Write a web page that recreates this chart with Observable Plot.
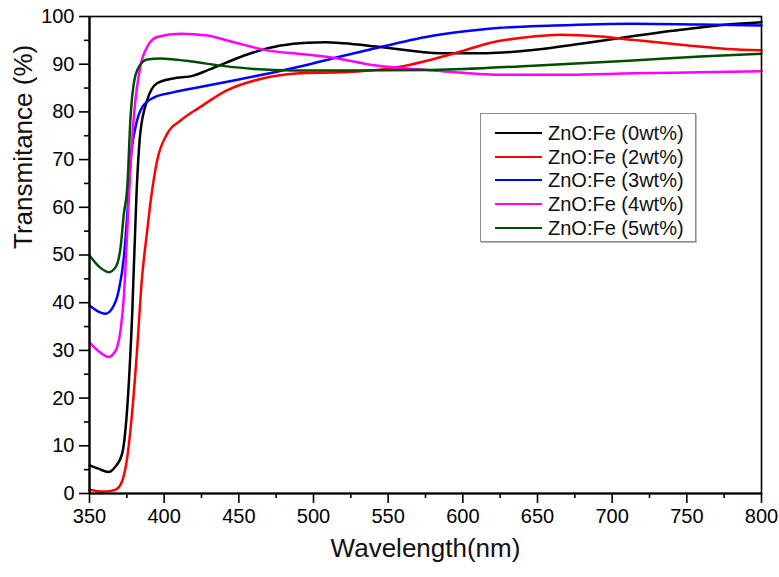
<!DOCTYPE html>
<html>
<head>
<meta charset="utf-8">
<script src="https://cdn.jsdelivr.net/npm/d3@7"></script>
<script src="https://cdn.jsdelivr.net/npm/@observablehq/plot@0.6"></script>
<style>
  body { margin: 0; background: #fff; }
  #wrap { position: relative; width: 779px; height: 577px; font-family: "Liberation Sans", Arial, sans-serif; }
  #legend { position: absolute; left: 480px; top: 113px; width: 216px; height: 129px;
            border: 1px solid #8a8a8a; box-shadow: 1px 1px 0 #bbb; background: #fff; box-sizing: border-box; }
  .row { position: absolute; left: 0; height: 24px; }
  .sw { position: absolute; left: 14px; width: 47px; height: 0; border-top: 2.5px solid; }
  .lbl { position: absolute; left: 67px; font-size: 20px; white-space: nowrap; color: #111; line-height: 24px; top: 0; }
</style>
</head>
<body>
<div id="wrap"><div id="legend"></div></div>
<script>
const seriesNames = ["ZnO:Fe (0wt%)", "ZnO:Fe (2wt%)", "ZnO:Fe (3wt%)", "ZnO:Fe (4wt%)", "ZnO:Fe (5wt%)"];
const seriesColors = ["#000000", "#ff0000", "#0000ff", "#ff00ff", "#004f00"];

const wl0 = [350, 356, 362.7, 367, 371.9, 375, 378.6, 381.5, 384, 388.6, 395.3, 406, 419.6, 428.8, 442, 460, 478, 495.8, 508, 520, 545, 585, 616, 647, 679, 710, 746, 777, 800];
const t0  = [5.9, 5.2, 4.5, 5.5, 8.4, 16.8, 37.7, 63, 75.5, 82.4, 86, 87, 87.6, 88.7, 90.4, 92.5, 93.9, 94.5, 94.6, 94.4, 93.6, 92.3, 92.3, 93, 94.3, 95.7, 97.2, 98.3, 98.8];

const wl2 = [350, 359, 365, 368.5, 372, 375, 378.5, 382, 385, 388.6, 391, 395.3, 402, 411, 424, 442, 464.5, 491, 518, 536, 560, 580.6, 600, 616, 647, 665, 692, 714, 746, 777, 800];
const t2  = [0.8, 0.4, 0.6, 1, 2.7, 7, 16.8, 30.7, 44.6, 55, 61.4, 69.8, 75.4, 78.2, 81, 84.5, 86.9, 88.1, 88.3, 88.6, 89.6, 91.1, 92.8, 94.3, 95.8, 96.2, 95.8, 95.1, 94.1, 93.2, 92.9];

const wl3 = [350, 355, 360.7, 365, 369.6, 373, 375.3, 377.5, 380.8, 385.3, 393, 406, 424, 446.6, 469, 491, 518, 545, 580.6, 616, 661, 714, 759, 800];
const t3  = [39.4, 38.3, 37.7, 38.7, 42.6, 49.5, 58.6, 69.8, 76.8, 81, 83, 84.1, 85.2, 86.6, 88, 89.5, 91.6, 93.6, 96, 97.4, 98.1, 98.5, 98.3, 98.1];

const wl4 = [350, 357, 362.9, 366, 368.5, 370.8, 373, 375.3, 377, 379.7, 384, 388.6, 395.3, 411, 428.8, 446.6, 469, 493, 518, 536, 580.6, 625, 670, 714, 759, 800];
const t4  = [31.7, 29.6, 28.6, 29.3, 30.7, 34.2, 41.2, 55.1, 66, 79, 89.4, 93.6, 95.7, 96.4, 96, 94.6, 92.9, 92.1, 91.1, 90, 88.7, 87.8, 87.8, 88.1, 88.3, 88.5];

const wl5 = [350, 357, 362.9, 367.4, 370.8, 373, 375.3, 377.5, 379.7, 383, 388.6, 397.5, 415, 438, 460, 487, 518, 580, 647, 714, 759, 800];
const t5  = [49.9, 47.4, 46.4, 47.4, 51.6, 58.6, 64.2, 79, 86, 89.4, 91, 91.2, 90.7, 89.7, 89, 88.7, 88.7, 88.8, 89.7, 90.8, 91.6, 92.2];

const xMajor = [350, 400, 450, 500, 550, 600, 650, 700, 750, 800];
const xMinor = [375, 425, 475, 525, 575, 625, 675, 725, 775];
const yMajor = [0, 10, 20, 30, 40, 50, 60, 70, 80, 90, 100];
const yMinor = [5, 15, 25, 35, 45, 55, 65, 75, 85, 95];

const wls = [wl0, wl2, wl3, wl4, wl5];
const ts = [t0, t2, t3, t4, t5];
const data = seriesNames.flatMap((name, k) => wls[k].map((w, i) => ({name, w, t: ts[k][i]})));

const font = "'Liberation Sans', Arial, sans-serif";
const chart = Plot.plot({
  width: 779, height: 577,
  marginLeft: 89, marginRight: 18, marginTop: 16, marginBottom: 84,
  style: {fontFamily: font, color: "#000", background: "#fff", overflow: "visible"},
  x: {domain: [350, 800]},
  y: {domain: [0, 100]},
  color: {domain: seriesNames, range: seriesColors},
  marks: [
    Plot.lineY(data, {x: "w", y: "t", z: "name", stroke: "name", strokeWidth: 2.5, curve: "monotone-x"}),
    Plot.frame({stroke: "#000", strokeWidth: 1.6}),
    Plot.axisY({ticks: yMajor, tickSize: 10, tickPadding: 5, fontSize: 20, strokeWidth: 1.6, label: null}),
    Plot.axisY({ticks: yMinor, tickSize: 5, tickFormat: () => "", strokeWidth: 1.6, label: null}),
    Plot.axisX({ticks: xMajor, tickSize: 10, tickPadding: 5, fontSize: 20, strokeWidth: 1.6, label: null}),
    Plot.axisX({ticks: xMinor, tickSize: 5, tickFormat: () => "", strokeWidth: 1.6, label: null}),
    Plot.ruleX([350], {stroke: "#000", strokeWidth: 2.2}),
    Plot.ruleY([0], {stroke: "#000", strokeWidth: 2.2}),
    Plot.text(["Wavelength(nm)"], {frameAnchor: "bottom", dy: 63, fontSize: 26, fill: "#111"}),
    Plot.text(["Transmitance (%)"], {frameAnchor: "left", dx: -66, dy: -6, rotate: -90, fontSize: 26, fill: "#111"})
  ]
});
const wrap = document.getElementById("wrap");
wrap.insertBefore(chart, wrap.firstChild);

const legend = document.getElementById("legend");
seriesNames.forEach((name, i) => {
  const row = document.createElement("div");
  row.className = "row";
  row.style.top = (7 + i * 23.7) + "px";
  row.style.width = "100%";
  const sw = document.createElement("div");
  sw.className = "sw";
  sw.style.borderTopColor = seriesColors[i];
  sw.style.top = "11px";
  const lbl = document.createElement("div");
  lbl.className = "lbl";
  lbl.textContent = name;
  row.appendChild(sw);
  row.appendChild(lbl);
  legend.appendChild(row);
});
</script>
</body>
</html>
